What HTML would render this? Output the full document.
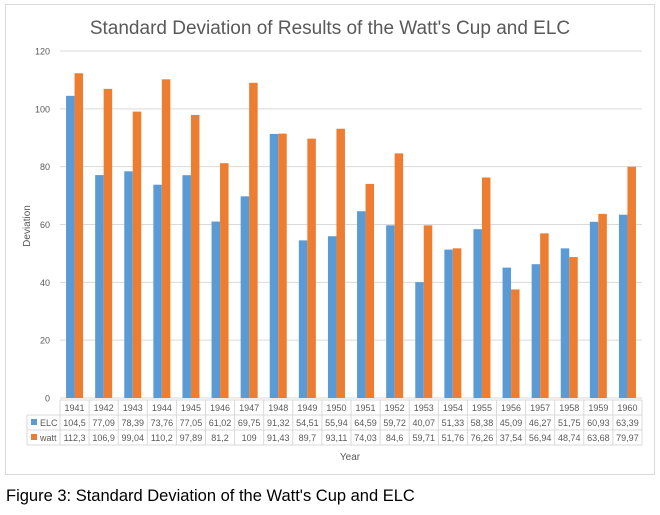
<!DOCTYPE html>
<html><head><meta charset="utf-8"><style>
body{margin:0;background:#fff;font-family:"Liberation Sans",sans-serif;}
svg text{font-family:"Liberation Sans",sans-serif;}
</style></head><body>
<svg id="c" width="660" height="510" xmlns="http://www.w3.org/2000/svg">
<rect x="5.5" y="4.5" width="649" height="470" fill="#fff" stroke="#d9d9d9"/>
<text x="330" y="34" text-anchor="middle" font-size="19" fill="#595959">Standard Deviation of Results of the Watt's Cup and ELC</text>
<text transform="translate(30,226) rotate(-90)" text-anchor="middle" font-size="10" fill="#595959">Deviation</text>
<text x="350" y="460" text-anchor="middle" font-size="10" fill="#595959">Year</text>
<text x="6" y="501" font-size="16.5" fill="#000">Figure 3: Standard Deviation of the Watt's Cup and ELC</text>
<g id="g"></g>
</svg>
<script>
const years=["1941","1942","1943","1944","1945","1946","1947","1948","1949","1950","1951","1952","1953","1954","1955","1956","1957","1958","1959","1960"];
const elc=[104.5,77.09,78.39,73.76,77.05,61.02,69.75,91.32,54.51,55.94,64.59,59.72,40.07,51.33,58.38,45.09,46.27,51.75,60.93,63.39];
const watt=[112.3,106.9,99.04,110.2,97.89,81.2,109,91.43,89.7,93.11,74.03,84.6,59.71,51.76,76.26,37.54,56.94,48.74,63.68,79.97];
const yTicks=[0,20,40,60,80,100,120];
const X0=60,X1=642,Y0=398,Y1=51,YMAX=120;
const cw=(X1-X0)/years.length;
const ys=v=>Y0-(v/YMAX)*(Y0-Y1);
const xs=i=>X0+i*cw;
const fmt=v=>String(v).replace('.',',');
const g=document.getElementById('g');
const NS="http://www.w3.org/2000/svg";
function mk(t,a,txt){const e=document.createElementNS(NS,t);for(const k in a)e.setAttribute(k,a[k]);if(txt!=null)e.textContent=txt;g.appendChild(e);return e;}
yTicks.forEach(t=>{
 const l=mk('line',{x1:X0,x2:X1,y1:ys(t),y2:ys(t),stroke:'#d9d9d9','stroke-width':1});
 
 
 const tx=mk('text',{x:X0-10,y:ys(t)+3.5,'text-anchor':'end','font-size':9,fill:'#595959'},t);
 
 
});
const bw=8.5;
years.forEach((y,i)=>{
 const cx=xs(i)+cw/2;
 const b1=mk('rect',{x:cx-bw,y:ys(elc[i]),width:bw,height:Y0-ys(elc[i]),fill:'#5b9bd5'});
 
 
 const b2=mk('rect',{x:cx,y:ys(watt[i]),width:bw,height:Y0-ys(watt[i]),fill:'#ed7d31'});
 
 
});
const TL=27,R0=400,RH=15;
const tc='#d9d9d9';
mk('line',{x1:X0,x2:X1,y1:R0,y2:R0,stroke:tc});
[1,2,3].forEach(r=>mk('line',{x1:TL,x2:X1,y1:R0+r*RH,y2:R0+r*RH,stroke:tc}));
mk('line',{x1:TL,x2:TL,y1:R0+RH,y2:R0+3*RH,stroke:tc});
for(let i=0;i<=years.length;i++)mk('line',{x1:xs(i),x2:xs(i),y1:R0,y2:R0+3*RH,stroke:tc});
years.forEach((y,i)=>{
 const cx=xs(i)+cw/2;
 const t0=mk('text',{x:cx,y:R0+11,'text-anchor':'middle','font-size':9,fill:'#595959'},y);
 
 
 const t1=mk('text',{x:cx,y:R0+RH+11,'text-anchor':'middle','font-size':9,fill:'#595959'},fmt(elc[i]));
 
 
 const t2=mk('text',{x:cx,y:R0+2*RH+11,'text-anchor':'middle','font-size':9,fill:'#595959'},fmt(watt[i]));
 
 
});
const k1=mk('rect',{x:31,y:R0+RH+4,width:6,height:6,fill:'#5b9bd5'});


const l1=mk('text',{x:40,y:R0+RH+11,'font-size':9,fill:'#595959'},'ELC');


const k2=mk('rect',{x:31,y:R0+2*RH+4,width:6,height:6,fill:'#ed7d31'});


const l2=mk('text',{x:40,y:R0+2*RH+11,'font-size':9,fill:'#595959'},'watt');


</script>
</body></html>
